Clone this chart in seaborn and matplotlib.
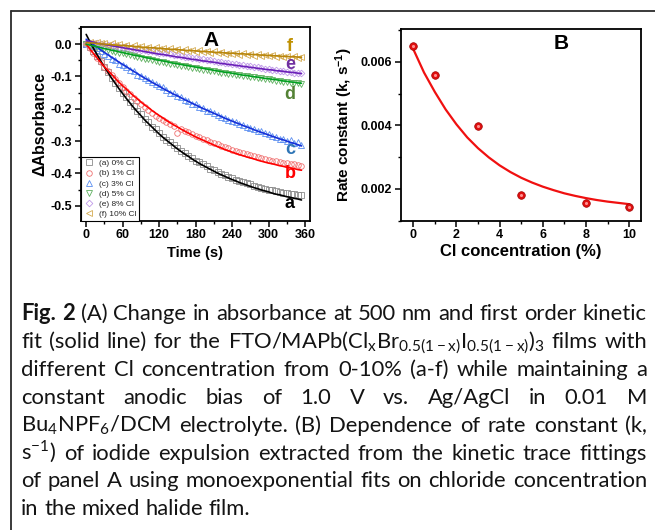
import matplotlib
matplotlib.use("Agg")
import matplotlib.pyplot as plt
from matplotlib.lines import Line2D
from matplotlib.ticker import MultipleLocator, FixedLocator, FormatStrFormatter
import seaborn as sns

# ---------------- data: panel A ----------------
time_s = list(range(0, 360, 6))

abs_a = [0.000, -0.008, -0.020, -0.036, -0.052, -0.070, -0.086, -0.104, -0.120, -0.136,
         -0.150, -0.163, -0.180, -0.190, -0.206, -0.216, -0.232, -0.240, -0.256, -0.264,
         -0.275, -0.286, -0.296, -0.304, -0.313, -0.322, -0.330, -0.338, -0.346, -0.352,
         -0.360, -0.366, -0.372, -0.378, -0.385, -0.390, -0.396, -0.401, -0.406, -0.410,
         -0.414, -0.419, -0.423, -0.427, -0.431, -0.434, -0.438, -0.441, -0.444, -0.447,
         -0.450, -0.452, -0.455, -0.457, -0.459, -0.461, -0.462, -0.464, -0.466, -0.468]
abs_b = [0.000, -0.012, -0.026, -0.042, -0.056, -0.070, -0.082, -0.096, -0.108, -0.120,
         -0.132, -0.144, -0.154, -0.166, -0.176, -0.186, -0.196, -0.204, -0.212, -0.222,
         -0.228, -0.236, -0.242, -0.248, -0.254, -0.276, -0.262, -0.268, -0.272, -0.278,
         -0.284, -0.288, -0.292, -0.298, -0.302, -0.306, -0.310, -0.314, -0.318, -0.322,
         -0.326, -0.330, -0.334, -0.337, -0.341, -0.344, -0.347, -0.350, -0.353, -0.356,
         -0.358, -0.360, -0.363, -0.365, -0.367, -0.369, -0.371, -0.372, -0.374, -0.376]
abs_c = [0.000, 0.002, -0.006, -0.012, -0.022, -0.030, -0.036, -0.046, -0.050, -0.060,
         -0.064, -0.072, -0.080, -0.084, -0.094, -0.098, -0.106, -0.110, -0.118, -0.122,
         -0.130, -0.134, -0.142, -0.150, -0.152, -0.160, -0.164, -0.172, -0.176, -0.184,
         -0.186, -0.194, -0.198, -0.206, -0.208, -0.214, -0.218, -0.226, -0.228, -0.234,
         -0.238, -0.240, -0.248, -0.250, -0.256, -0.258, -0.264, -0.268, -0.270, -0.276,
         -0.278, -0.284, -0.286, -0.292, -0.294, -0.300, -0.298, -0.306, -0.304, -0.312]
abs_d = [0.000, -0.004, -0.006, -0.010, -0.012, -0.016, -0.018, -0.022, -0.024, -0.027,
         -0.029, -0.032, -0.034, -0.038, -0.040, -0.042, -0.045, -0.047, -0.050, -0.052,
         -0.054, -0.056, -0.058, -0.061, -0.062, -0.065, -0.067, -0.069, -0.071, -0.073,
         -0.075, -0.077, -0.079, -0.080, -0.083, -0.084, -0.086, -0.088, -0.090, -0.091,
         -0.093, -0.095, -0.097, -0.098, -0.100, -0.101, -0.103, -0.105, -0.106, -0.108,
         -0.109, -0.111, -0.113, -0.114, -0.116, -0.117, -0.119, -0.120, -0.121, -0.123]
abs_e = [0.000, 0.004, 0.003, 0.002, 0.000, -0.002, -0.002, -0.004, -0.005, -0.008,
         -0.009, -0.010, -0.012, -0.014, -0.015, -0.018, -0.019, -0.021, -0.022, -0.025,
         -0.026, -0.028, -0.029, -0.032, -0.033, -0.035, -0.036, -0.039, -0.040, -0.042,
         -0.043, -0.046, -0.047, -0.049, -0.050, -0.053, -0.054, -0.056, -0.058, -0.059,
         -0.061, -0.063, -0.064, -0.066, -0.068, -0.069, -0.071, -0.072, -0.074, -0.076,
         -0.077, -0.079, -0.080, -0.082, -0.083, -0.085, -0.086, -0.088, -0.089, -0.090]
abs_f = [0.000, 0.008, 0.004, 0.006, 0.002, 0.004, -0.002, 0.002, -0.004, 0.000,
         -0.006, -0.002, -0.008, -0.004, -0.010, -0.006, -0.012, -0.008, -0.014, -0.010,
         -0.015, -0.011, -0.017, -0.013, -0.019, -0.014, -0.020, -0.016, -0.022, -0.018,
         -0.024, -0.019, -0.025, -0.021, -0.027, -0.022, -0.028, -0.024, -0.030, -0.026,
         -0.031, -0.027, -0.033, -0.028, -0.034, -0.030, -0.036, -0.031, -0.037, -0.033,
         -0.038, -0.034, -0.040, -0.036, -0.041, -0.037, -0.042, -0.038, -0.043, -0.040]

fit_a = [0.030, 0.008, -0.013, -0.033, -0.052, -0.071, -0.088, -0.106, -0.122, -0.138,
         -0.153, -0.168, -0.182, -0.196, -0.209, -0.221, -0.234, -0.245, -0.256, -0.267,
         -0.278, -0.288, -0.297, -0.306, -0.315, -0.324, -0.332, -0.340, -0.347, -0.355,
         -0.362, -0.369, -0.375, -0.381, -0.387, -0.393, -0.399, -0.404, -0.409, -0.414,
         -0.419, -0.423, -0.428, -0.432, -0.436, -0.440, -0.444, -0.447, -0.451, -0.454,
         -0.457, -0.461, -0.464, -0.466, -0.469, -0.472, -0.474, -0.477, -0.479, -0.482]
fit_b = [0.000, -0.015, -0.029, -0.043, -0.057, -0.070, -0.082, -0.094, -0.106, -0.118,
         -0.129, -0.139, -0.150, -0.160, -0.169, -0.179, -0.188, -0.196, -0.205, -0.213,
         -0.221, -0.228, -0.236, -0.243, -0.250, -0.256, -0.263, -0.269, -0.275, -0.281,
         -0.287, -0.292, -0.297, -0.302, -0.307, -0.312, -0.317, -0.321, -0.326, -0.330,
         -0.334, -0.338, -0.342, -0.345, -0.349, -0.352, -0.355, -0.359, -0.362, -0.365,
         -0.368, -0.370, -0.373, -0.376, -0.378, -0.381, -0.383, -0.385, -0.388, -0.390]
fit_c = [0.015, 0.007, -0.002, -0.010, -0.018, -0.026, -0.033, -0.041, -0.048, -0.056,
         -0.063, -0.070, -0.077, -0.084, -0.091, -0.098, -0.105, -0.111, -0.118, -0.124,
         -0.130, -0.137, -0.143, -0.149, -0.155, -0.160, -0.166, -0.172, -0.177, -0.183,
         -0.188, -0.194, -0.199, -0.204, -0.209, -0.214, -0.219, -0.224, -0.229, -0.234,
         -0.238, -0.243, -0.247, -0.252, -0.256, -0.260, -0.265, -0.269, -0.273, -0.277,
         -0.281, -0.285, -0.289, -0.293, -0.296, -0.300, -0.304, -0.307, -0.311, -0.315]
fit_d = [0.000, -0.003, -0.006, -0.008, -0.011, -0.014, -0.016, -0.019, -0.021, -0.024,
         -0.026, -0.029, -0.031, -0.034, -0.036, -0.038, -0.041, -0.043, -0.045, -0.048,
         -0.050, -0.052, -0.054, -0.057, -0.059, -0.061, -0.063, -0.065, -0.067, -0.069,
         -0.071, -0.073, -0.075, -0.077, -0.079, -0.081, -0.083, -0.085, -0.087, -0.088,
         -0.090, -0.092, -0.094, -0.096, -0.097, -0.099, -0.101, -0.102, -0.104, -0.106,
         -0.107, -0.109, -0.110, -0.112, -0.114, -0.115, -0.117, -0.118, -0.120, -0.121]
fit_e = [0.010, 0.008, 0.006, 0.003, 0.001, -0.001, -0.003, -0.005, -0.007, -0.009,
         -0.011, -0.013, -0.015, -0.017, -0.019, -0.021, -0.023, -0.025, -0.027, -0.029,
         -0.031, -0.032, -0.034, -0.036, -0.038, -0.040, -0.041, -0.043, -0.045, -0.047,
         -0.048, -0.050, -0.052, -0.053, -0.055, -0.056, -0.058, -0.060, -0.061, -0.063,
         -0.064, -0.066, -0.067, -0.069, -0.070, -0.072, -0.073, -0.075, -0.076, -0.078,
         -0.079, -0.080, -0.082, -0.083, -0.084, -0.086, -0.087, -0.088, -0.090, -0.091]
fit_f = [0.005, 0.004, 0.003, 0.002, 0.001, 0.000, -0.001, -0.002, -0.003, -0.004,
         -0.004, -0.005, -0.006, -0.007, -0.008, -0.009, -0.010, -0.011, -0.011, -0.012,
         -0.013, -0.014, -0.015, -0.016, -0.016, -0.017, -0.018, -0.019, -0.020, -0.020,
         -0.021, -0.022, -0.023, -0.023, -0.024, -0.025, -0.026, -0.026, -0.027, -0.028,
         -0.028, -0.029, -0.030, -0.030, -0.031, -0.032, -0.032, -0.033, -0.034, -0.034,
         -0.035, -0.036, -0.036, -0.037, -0.038, -0.038, -0.039, -0.039, -0.040, -0.041]

series_letters = ["a", "b", "c", "d", "e", "f"]
legend_labels = ["(a) 0% Cl", "(b) 1% Cl", "(c) 3% Cl", "(d) 5% Cl", "(e) 8% Cl", "(f) 10% Cl"]
x_ticks_A = [0, 60, 120, 180, 240, 300, 360]
y_ticks_A = [0.0, -0.1, -0.2, -0.3, -0.4, -0.5]

# ---------------- data: panel B ----------------
cl_pct = [0, 1, 3, 5, 8, 10]
rate_k = [0.00648, 0.00557, 0.00398, 0.00180, 0.00155, 0.00144]
fit_cl = [0, 0.5, 1, 1.5, 2, 2.5, 3, 3.5, 4, 4.5, 5, 5.5, 6, 6.5, 7, 7.5, 8, 8.5, 9, 9.5, 10]
fit_k = [0.00640, 0.00566, 0.00505, 0.00450, 0.00403, 0.00362, 0.00328, 0.00299, 0.00274,
         0.00253, 0.00235, 0.00220, 0.00207, 0.00196, 0.00186, 0.00178, 0.00171, 0.00165,
         0.00160, 0.00156, 0.00152]
x_ticks_B = [0, 2, 4, 6, 8, 10]
y_ticks_B = [0.002, 0.004, 0.006]

caption_lines = [
    "Fig. 2 (A) Change in absorbance at 500 nm and first order kinetic",
    "fit (solid line) for the FTO/MAPb(Cl$_{\\mathrm{x}}$Br$_{\\mathrm{0.5(1-x)}}$I$_{\\mathrm{0.5(1-x)}}$)$_{\\mathrm{3}}$ films with",
    "different Cl concentration from 0-10% (a-f) while maintaining a",
    "constant anodic bias of 1.0 V vs. Ag/AgCl in 0.01 M",
    "Bu$_{\\mathrm{4}}$NPF$_{\\mathrm{6}}$/DCM electrolyte. (B) Dependence of rate constant (k,",
    "s$^{\\mathrm{-1}}$) of iodide expulsion extracted from the kinetic trace fittings",
    "of panel A using monoexponential fits on chloride concentration",
    "in the mixed halide film.",
]

# ---------------- styles ----------------
sns.set_theme(style="ticks")
plt.rcParams['font.family'] = ['Liberation Sans', 'DejaVu Sans']
plt.rcParams['axes.unicode_minus'] = False
plt.rcParams['mathtext.fontset'] = 'custom'
plt.rcParams['mathtext.rm'] = 'Lato'
plt.rcParams['mathtext.bf'] = 'Liberation Sans:bold'

W, H = 655, 530
fig = plt.figure(figsize=(W / 100, H / 100), dpi=100)
fig.patch.set_facecolor('white')

marker_styles = ['s', 'o', '^', 'v', 'D', '<']
marker_sizes = [3.8, 4.0, 4.0, 4.0, 3.4, 4.0]
marker_colors = ['#8c8c8c', '#f07070', '#5b8ef0', '#5fb060', '#c09ae8', '#d4aa50']
line_colors = ['#000000', '#ff0000', '#1530d8', '#00a020', '#6a1fb8', '#b8860b']
letter_colors = ['#000000', '#ff0000', '#2e75b6', '#548235', '#7030a0', '#bf9000']
letter_pos = [(335, -0.492), (335, -0.40), (335, -0.325), (335, -0.155), (335, -0.062), (335, -0.006)]

def style_axes(ax):
    for s in ax.spines.values():
        s.set_visible(True)
        s.set_color('black')
        s.set_linewidth(1.3)
    ax.tick_params(which='major', direction='out', length=4, width=1.1, color='black',
                   top=False, right=False, pad=2, labelsize=9, labelcolor='black')
    ax.tick_params(which='minor', direction='out', length=2.3, width=1.0, color='black',
                   top=False, right=False)
    ax.set_facecolor('white')
    ax.grid(False)

# ---------------- panel A ----------------
axA = fig.add_axes([80.7 / W, 1 - 221 / H, 229.3 / W, 193.7 / H])
all_abs = [abs_a, abs_b, abs_c, abs_d, abs_e, abs_f]
all_fit = [fit_a, fit_b, fit_c, fit_d, fit_e, fit_f]
for i in range(6):
    sns.lineplot(x=time_s, y=all_abs[i], ax=axA, linestyle='', marker=marker_styles[i],
                 markersize=marker_sizes[i], markerfacecolor='none',
                 markeredgecolor=marker_colors[i], markeredgewidth=0.6,
                 color=marker_colors[i], errorbar=None, legend=False, zorder=2)
for i in range(6):
    sns.lineplot(x=time_s, y=all_fit[i], ax=axA, color=line_colors[i], linewidth=1.2,
                 errorbar=None, legend=False, zorder=3)

axA.set_xlim(-9, 368)
axA.set_ylim(-0.547, 0.052)
axA.xaxis.set_major_locator(FixedLocator(x_ticks_A))
axA.xaxis.set_minor_locator(MultipleLocator(30))
axA.yaxis.set_major_locator(FixedLocator(y_ticks_A))
axA.yaxis.set_minor_locator(MultipleLocator(0.05))
axA.yaxis.set_major_formatter(FormatStrFormatter('%.1f'))
style_axes(axA)
axA.set_xlabel('Time (s)', fontsize=10.5, fontweight='bold', labelpad=3, color='black')
axA.set_ylabel('ΔAbsorbance', fontsize=11.5, fontweight='bold', labelpad=2, color='black')
for lab in axA.get_xticklabels() + axA.get_yticklabels():
    lab.set_fontweight('bold')

for i in range(6):
    axA.text(letter_pos[i][0], letter_pos[i][1], series_letters[i], color=letter_colors[i],
             fontsize=13, fontweight='bold', ha='center', va='center', zorder=5)
axA.text(0.57, 0.93, 'A', transform=axA.transAxes, fontsize=15, fontweight='bold',
         ha='center', va='center', color='black')

handles = [Line2D([], [], linestyle='', marker=marker_styles[i], markersize=marker_sizes[i],
                  markerfacecolor='none', markeredgecolor=marker_colors[i], markeredgewidth=0.6)
           for i in range(6)]
legA = axA.legend(handles, legend_labels, loc='lower left', bbox_to_anchor=(0, 0),
                  borderaxespad=0, fontsize=6, frameon=True, fancybox=False,
                  edgecolor='black', framealpha=1, handlelength=1.2, handletextpad=0.6,
                  labelspacing=0.28, borderpad=0.35)
legA.get_frame().set_linewidth(0.8)

# ---------------- panel B ----------------
axB = fig.add_axes([400.7 / W, 1 - 220.7 / H, 240 / W, 191.4 / H])
sns.lineplot(x=fit_cl, y=fit_k, ax=axB, color='#f01010', linewidth=1.6,
             errorbar=None, legend=False, zorder=2)
sns.scatterplot(x=cl_pct, y=rate_k, ax=axB, color='#e01010', s=30, edgecolor='#a00000',
                linewidth=0.5, zorder=3, legend=False)
sns.scatterplot(x=cl_pct, y=rate_k, ax=axB, color='#ff9090', s=5, linewidth=0,
                zorder=4, legend=False)
axB.set_xlim(-0.58, 10.53)
axB.set_ylim(0.001, 0.00702)
axB.xaxis.set_major_locator(FixedLocator(x_ticks_B))
axB.xaxis.set_minor_locator(MultipleLocator(1))
axB.yaxis.set_major_locator(FixedLocator(y_ticks_B))
axB.yaxis.set_minor_locator(MultipleLocator(0.001))
axB.yaxis.set_major_formatter(FormatStrFormatter('%.3f'))
style_axes(axB)
axB.set_xlabel('Cl concentration (%)', fontsize=12, fontweight='bold', labelpad=2, color='black')
axB.set_ylabel('Rate constant (k, s$\\mathbf{^{-1}}$)', fontsize=11, fontweight='bold',
               labelpad=4, color='black')
for lab in axB.get_xticklabels() + axB.get_yticklabels():
    lab.set_fontweight('bold')
axB.text(0.67, 0.925, 'B', transform=axB.transAxes, fontsize=15, fontweight='bold',
         ha='center', va='center', color='black')

# ---------------- frame lines ----------------
fx, fy = 10.5 / W, 1 - 10.5 / H
fig.add_artist(Line2D([fx, fx], [0, fy], transform=fig.transFigure, color='#2b2b2b', lw=1.3))
fig.add_artist(Line2D([fx, 1], [fy, fy], transform=fig.transFigure, color='#2b2b2b', lw=1.3))

# ---------------- caption (justified) ----------------
CAP_FONT = ['Lato', 'DejaVu Sans']
fig.canvas.draw()
renderer = fig.canvas.get_renderer()

def text_width(s, size, bold):
    t = fig.text(0, 0, s, fontsize=size, family=CAP_FONT, weight='bold' if bold else 'normal')
    w = t.get_window_extent(renderer).width
    t.remove()
    return w

def words_of(li, line):
    ws = line.split(' ')
    return [(w, li == 0 and k < 2) for k, w in enumerate(ws)]

left_px, right_px = 21, 647
target = right_px - left_px
base_size = 14
space_w = text_width('x x', base_size, False) - text_width('xx', base_size, False)
natural = []
for li, line in enumerate(caption_lines[:-1]):
    wl = words_of(li, line)
    natural.append(sum(text_width(w, base_size, b) for w, b in wl) + space_w * (len(wl) - 1))
cap_size = base_size * target / max(natural) * 0.995
space_w = text_width('x x', cap_size, False) - text_width('xx', cap_size, False)

baseline0, line_step = 320, 27.9
for li, line in enumerate(caption_lines):
    wl = words_of(li, line)
    widths = [text_width(w, cap_size, b) for w, b in wl]
    if li < len(caption_lines) - 1:
        gap = (target - sum(widths)) / (len(wl) - 1)
    else:
        gap = space_w
    x = left_px
    ybase = baseline0 + li * line_step
    for (w, b), wd in zip(wl, widths):
        fig.text(x / W, 1 - ybase / H, w, fontsize=cap_size, family=CAP_FONT,
                 weight='bold' if b else 'normal', ha='left', va='baseline', color='#141414')
        x += wd + gap

fig.savefig('out.png', dpi=100, facecolor='white')
